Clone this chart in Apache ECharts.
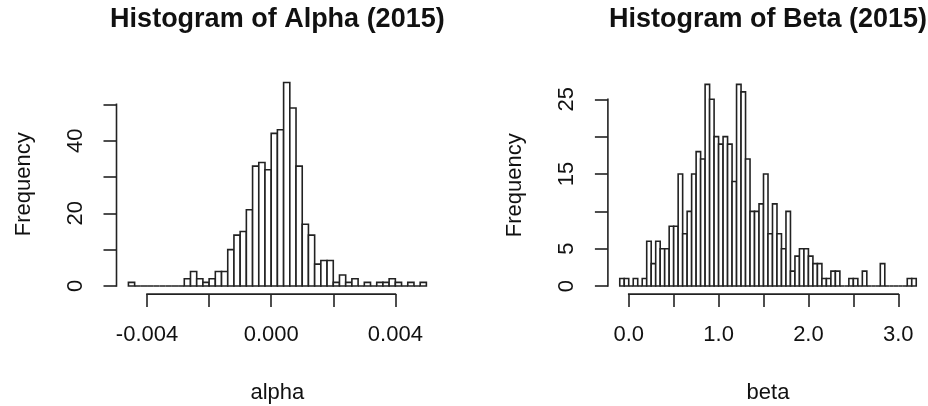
<!DOCTYPE html>
<html>
<head>
<meta charset="utf-8">
<script src="https://cdn.jsdelivr.net/npm/echarts@6/dist/echarts.min.js"></script>
<style>
html,body{margin:0;padding:0;background:#fff;}
#chart{width:928px;height:406px;}
</style>
</head>
<body>
<div id="chart"></div>
<script>
// ---- data ----
const alphaBreaks = [-0.0046,-0.0044,-0.0042,-0.0040,-0.0038,-0.0036,-0.0034,-0.0032,-0.0030,-0.0028,-0.0026,-0.0024,-0.0022,-0.0020,-0.0018,-0.0016,-0.0014,-0.0012,-0.0010,-0.0008,-0.0006,-0.0004,-0.0002,0.0000,0.0002,0.0004,0.0006,0.0008,0.0010,0.0012,0.0014,0.0016,0.0018,0.0020,0.0022,0.0024,0.0026,0.0028,0.0030,0.0032,0.0034,0.0036,0.0038,0.0040,0.0042,0.0044,0.0046,0.0048,0.0050];
const alphaCounts = [1,0,0,0,0,0,0,0,0,2,4,2,1,2,4,4,10,14,15,21,33,34,32,42,43,56,49,33,17,14,6,7,7,1,3,1,2,0,1,0,1,1,2,1,0,1,0,1];
const betaBreaks = [-0.10,-0.05,0.00,0.05,0.10,0.15,0.20,0.25,0.30,0.35,0.40,0.45,0.50,0.55,0.60,0.65,0.70,0.75,0.80,0.85,0.90,0.95,1.00,1.05,1.10,1.15,1.20,1.25,1.30,1.35,1.40,1.45,1.50,1.55,1.60,1.65,1.70,1.75,1.80,1.85,1.90,1.95,2.00,2.05,2.10,2.15,2.20,2.25,2.30,2.35,2.40,2.45,2.50,2.55,2.60,2.65,2.70,2.75,2.80,2.85,2.90,2.95,3.00,3.05,3.10,3.15,3.20];
const betaCounts = [1,1,0,1,0,1,6,3,6,5,5,8,8,15,7,10,15,18,17,27,25,20,19,20,19,14,27,26,17,10,10,11,15,7,11,7,5,10,2,4,5,5,4,3,3,1,1,2,2,0,0,1,1,0,2,0,0,0,3,0,0,0,0,0,1,1];

const alphaXTicks = [-0.004,-0.002,0,0.002,0.004];
const alphaXLabels = [-0.004,0,0.004];
const alphaYTicks = [0,10,20,30,40,50];
const alphaYLabels = [0,20,40];
const betaXTicks = [0,0.5,1,1.5,2,2.5,3];
const betaXLabels = [0,1,2,3];
const betaYTicks = [0,5,10,15,20,25];
const betaYLabels = [0,5,15,25];

const titles = ['Histogram of Alpha (2015)','Histogram of Beta (2015)'];
const xNames = ['alpha','beta'];
const yName = 'Frequency';

// ---- helpers ----
const FONT = 'Liberation Sans, Arial, Helvetica, sans-serif';
const INK = '#222';
const LW = 1.6;

function usr(lo, hi){ const d = (hi-lo)*0.04; return [lo-d, hi+d]; }
function bins(breaks, counts){ return counts.map((c,i)=>[breaks[i], breaks[i+1], c]); }

const aX = usr(alphaBreaks[0], alphaBreaks[alphaBreaks.length-1]);
const aY = usr(0, Math.max(...alphaCounts));
const bX = usr(betaBreaks[0], betaBreaks[betaBreaks.length-1]);
const bY = usr(0, Math.max(...betaCounts));

const grids = [
  {left:116.5, top:74.4, width:321.8, height:219.7, outerBoundsMode:'none', containLabel:false},
  {left:607.9, top:76.3, width:320.2, height:217.8, outerBoundsMode:'none', containLabel:false}
];

function xAxis(idx, range, ticks, labels, dec, name){
  return {
    type:'value', gridIndex:idx, min:range[0], max:range[1],
    axisLine:{show:false, onZero:false}, splitLine:{show:false},
    axisTick:{show:true, inside:false, length:13, customValues:ticks, lineStyle:{color:INK, width:LW}},
    axisLabel:{show:true, customValues:labels, margin:30, fontSize:22, fontFamily:FONT, color:'#111',
      formatter:v=>Number(v).toFixed(dec)},
    name:name, nameLocation:'middle', nameGap:88,
    nameTextStyle:{fontSize:22, fontFamily:FONT, color:'#111'}
  };
}
function yAxis(idx, range, ticks, labels){
  return {
    type:'value', gridIndex:idx, min:range[0], max:range[1],
    axisLine:{show:false, onZero:false}, splitLine:{show:false},
    axisTick:{show:true, inside:false, length:13, customValues:ticks, lineStyle:{color:INK, width:LW}},
    axisLabel:{show:true, customValues:labels, rotate:90, margin:30, fontSize:22, fontFamily:FONT, color:'#111',
      formatter:v=>String(v)},
    name:yName, nameLocation:'middle', nameGap:82,
    nameTextStyle:{fontSize:22, fontFamily:FONT, color:'#111'}
  };
}

function histSeries(idx, data){
  return {
    type:'custom', xAxisIndex:idx, yAxisIndex:idx, data:data, clip:false,
    renderItem:function(params, api){
      const p0 = api.coord([api.value(0), api.value(2)]);
      const p1 = api.coord([api.value(1), 0]);
      return {type:'rect', shape:{x:p0[0], y:p0[1], width:p1[0]-p0[0], height:p1[1]-p0[1]},
        style:{fill:'#fff', stroke:INK, lineWidth:LW}};
    }
  };
}
// partial axis lines (R style: spanning first to last tick), placed on the plot-region edges
function axisLines(idx, xr, yr, xt, yt){
  return {
    type:'custom', xAxisIndex:idx, yAxisIndex:idx, clip:false, silent:true,
    data:[[xt[0], yt[0]]],
    renderItem:function(params, api){
      const a = api.coord([xt[0], yr[0]]);
      const b = api.coord([xt[xt.length-1], yr[0]]);
      const c = api.coord([xr[0], yt[0]]);
      const d = api.coord([xr[0], yt[yt.length-1]]);
      return {type:'group', children:[
        {type:'rect', shape:{x:a[0]-LW/2, y:a[1]-LW/2, width:b[0]-a[0]+LW, height:LW}, style:{fill:INK}},
        {type:'rect', shape:{x:c[0]-LW/2, y:d[1]-LW/2, width:LW, height:c[1]-d[1]+LW}, style:{fill:INK}}
      ]};
    }
  };
}

const chart = echarts.init(document.getElementById('chart'), null, {renderer:'canvas'});
chart.setOption({
  animation:false,
  backgroundColor:'#fff',
  title:[
    {text:titles[0], left:grids[0].left+grids[0].width/2, textAlign:'center', top:6, padding:0,
      textStyle:{fontSize:27, fontWeight:'bold', fontFamily:FONT, color:'#111'}},
    {text:titles[1], left:grids[1].left+grids[1].width/2, textAlign:'center', top:6, padding:0,
      textStyle:{fontSize:27, fontWeight:'bold', fontFamily:FONT, color:'#111'}}
  ],
  grid:grids,
  xAxis:[xAxis(0, aX, alphaXTicks, alphaXLabels, 3, xNames[0]), xAxis(1, bX, betaXTicks, betaXLabels, 1, xNames[1])],
  yAxis:[yAxis(0, aY, alphaYTicks, alphaYLabels), yAxis(1, bY, betaYTicks, betaYLabels)],
  series:[
    histSeries(0, bins(alphaBreaks, alphaCounts)),
    histSeries(1, bins(betaBreaks, betaCounts)),
    axisLines(0, aX, aY, alphaXTicks, alphaYTicks),
    axisLines(1, bX, bY, betaXTicks, betaYTicks)
  ]
});
</script>
</body>
</html>
